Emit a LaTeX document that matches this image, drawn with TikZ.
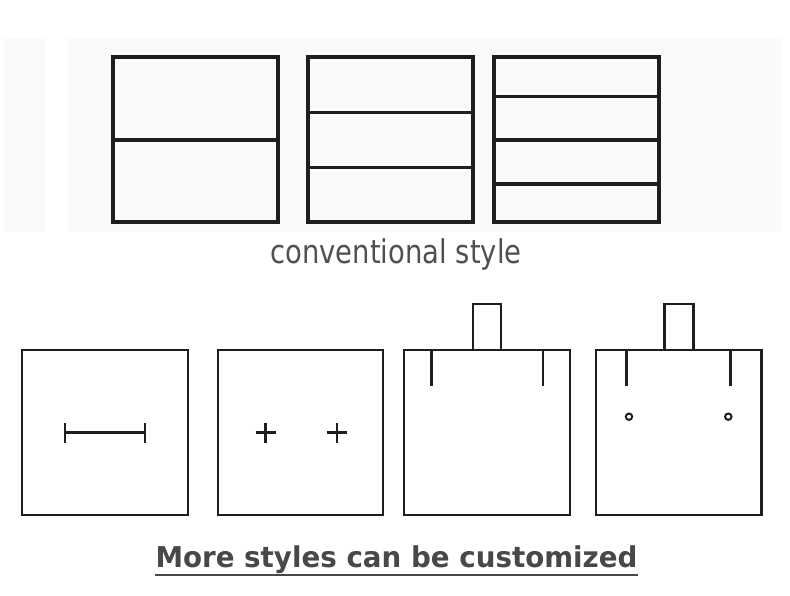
\documentclass[tikz,border=0pt]{standalone}
\usepackage{fontspec}
\usepackage{graphicx}
\setmainfont{DejaVu Sans}
\definecolor{txtgray}{HTML}{505050}
\definecolor{boldgray}{HTML}{484848}
\definecolor{panel}{HTML}{FAFAFA}
\definecolor{ink}{HTML}{1E1E1E}
\begin{document}
\begin{tikzpicture}[x=0.75pt,y=-0.75pt,
  boxline/.style={draw=ink,line width=2.3pt,line join=miter},
  thinline/.style={draw=ink,line width=2.1pt}]
\useasboundingbox[fill=white] (0,0) rectangle (790,596);
% faint background panels
\fill[panel] (4,38) rectangle (45,232);
\fill[panel] (68,38) rectangle (782,232);
% top boxes
\draw[boxline] (113,57) rectangle (278,222);
\draw[boxline] (113,140) -- (278,140);
\draw[boxline] (308,57) rectangle (473,222);
\draw[boxline] (308,112.7) -- (473,112.7);
\draw[boxline] (308,167.7) -- (473,167.7);
\draw[boxline] (494,57) rectangle (659,222);
\draw[boxline] (494,96.7) -- (659,96.7);
\draw[boxline] (494,140) -- (659,140);
\draw[boxline] (494,184) -- (659,184);
% caption top
\node[anchor=base,text=txtgray,inner sep=0pt,font=\fontsize{24.5pt}{28pt}\selectfont] (cap1) at (396,263)
  {\resizebox{188.25pt}{\height}{conventional style}};
% bottom box A
\draw[thinline] (22,350) rectangle (188,515);
\draw[thinline] (65,432.7) -- (145,432.7);
\draw[thinline] (65,422.7) -- (65,442.7);
\draw[thinline] (145,422.7) -- (145,442.7);
% bottom box B
\draw[thinline] (218,350) rectangle (383,515);
\draw[thinline] (255.7,432.7) -- (275.7,432.7) (265.7,422.7) -- (265.7,442.7);
\draw[thinline] (327,432.7) -- (347,432.7) (337,422.7) -- (337,442.7);
% bottom box C
\draw[thinline] (404,350) rectangle (570,515);
\draw[thinline] (473,350) -- (473,304) -- (501,304) -- (501,350);
\draw[thinline] (431.3,350) -- (431.3,385.7);
\draw[thinline] (543,350) -- (543,385.7);
% bottom box D
\draw[thinline] (596,350) rectangle (761.7,515);
\draw[thinline] (664.7,350) -- (664.7,304) -- (693.3,304) -- (693.3,350);
\draw[thinline] (626.7,350) -- (626.7,385.7);
\draw[thinline] (730.7,350) -- (730.7,385.7);
\draw[ink,line width=1.5pt] (629,416.7) circle[radius=3.2];
\draw[ink,line width=1.5pt] (728.3,416.7) circle[radius=3.2];
% caption bottom
\node[anchor=base,text=boldgray,inner sep=0pt,font=\fontsize{21.5pt}{26pt}\selectfont\bfseries] (cap2) at (396.5,567)
  {\resizebox{361.5pt}{\height}{More styles can be customized}};
\draw[boldgray,line width=1.9pt] (155,575) -- (638,575);
\end{tikzpicture}
\end{document}
